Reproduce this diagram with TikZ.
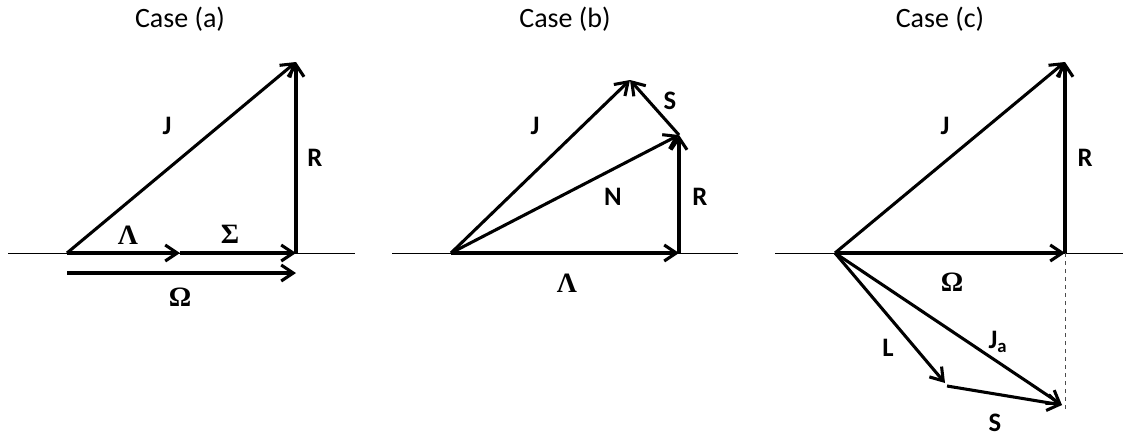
\documentclass[tikz,border=0pt]{standalone}
\usepackage{fontspec}
\setmainfont{Carlito}
\newfontfamily\grkfont{Liberation Serif}
\usetikzlibrary{arrows.meta}

\tikzset{
  vec/.style={line width=2.3pt, -{Straight Barb[length=9pt,width=12pt]}},
  base/.style={line width=0.7pt},
  guide/.style={line width=0.6pt, dashed, black!70},
  lbl/.style={font=\fontsize{20}{22}\selectfont\bfseries, inner sep=0pt},
  glbl/.style={font=\fontsize{21}{23}\selectfont\grkfont\bfseries, inner sep=0pt},
  ttl/.style={font=\fontsize{21}{25}\selectfont, inner sep=0pt}
}

\begin{document}
\begin{tikzpicture}[x=0.75pt,y=-0.75pt]
\useasboundingbox (0,0) rectangle (1125,439);

% case (a)
\node[ttl] (ta) at (180,19) {Case (a)};
\coordinate (aL) at (8,253);
\coordinate (aRt) at (355,253);
\coordinate (aO) at (67,253);
\coordinate (aM) at (180,253);
\coordinate (aE) at (296,253);
\coordinate (aT) at (296,62);
\coordinate (aO2) at (67,273);
\coordinate (aE2) at (296,273);
\draw[base] (aL) -- (aRt);
\draw[vec] (aO) -- (aM);
\draw[vec] (aM) -- (aE);
\draw[vec] (aE) -- (aT);
\draw[vec] (aO) -- (aT);
\draw[vec] (aO2) -- (aE2);
\node[lbl] (aJ) at (167,126) {J};
\node[lbl] (aR) at (315,158) {R};
\node[glbl] (aLam) at (128,235) {Λ};
\node[glbl] (aSig) at (230,234) {Σ};
\node[glbl] (aOm) at (180,297) {Ω};

% case (b)
\node[ttl] (tb) at (565,19) {Case (b)};
\coordinate (bL) at (392,253);
\coordinate (bRt) at (738,253);
\coordinate (bO) at (451,253);
\coordinate (bE) at (679,253);
\coordinate (bN) at (679,135);
\coordinate (bT) at (630,80);
\draw[base] (bL) -- (bRt);
\draw[vec] (bO) -- (bE);
\draw[vec] (bE) -- (bN);
\draw[vec] (bO) -- (bN);
\draw[vec] (bO) -- (bT);
\draw[vec] (bN) -- (bT);
\node[lbl] (bJ) at (535,126) {J};
\node[lbl] (bS) at (670,101) {S};
\node[lbl] (bNl) at (613,197) {N};
\node[lbl] (bR) at (700,197) {R};
\node[glbl] (bLam) at (567,283) {Λ};

% case (c)
\node[ttl] (tc) at (940,19) {Case (c)};
\coordinate (cL) at (775,253);
\coordinate (cRt) at (1123,253);
\coordinate (cO) at (835,253);
\coordinate (cE) at (1065,253);
\coordinate (cT) at (1065,62);
\coordinate (cB) at (1065,410);
\coordinate (cK) at (945,383);
\coordinate (cK2) at (947,386);
\coordinate (cA) at (1062,405);
\draw[base] (cL) -- (cRt);
\draw[guide] (cE) -- (cB);
\draw[vec] (cO) -- (cE);
\draw[vec] (cE) -- (cT);
\draw[vec] (cO) -- (cT);
\draw[vec] (cO) -- (cK);
\draw[vec] (cK2) -- (cA);
\draw[vec] (cO) -- (cA);
\node[lbl] (cJ) at (945,126) {J};
\node[lbl] (cR) at (1085,158) {R};
\node[glbl] (cOm) at (952,282) {Ω};
\node[lbl] (cLl) at (888,348) {L};
\node[lbl] (cJa) at (998,342) {J$_{\mathbf{a}}$};
\node[lbl] (cS) at (995,423) {S};
\end{tikzpicture}
\end{document}
